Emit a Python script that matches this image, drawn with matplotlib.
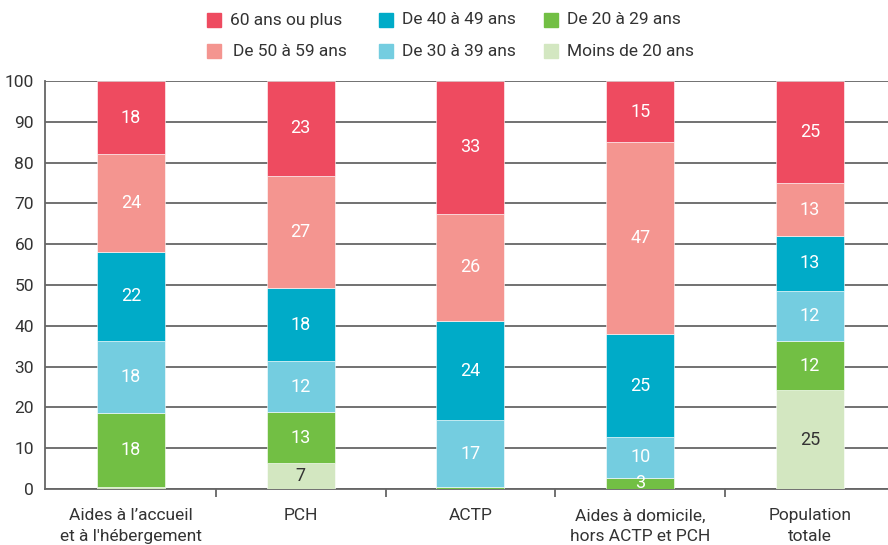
import numpy as np
import matplotlib
matplotlib.use('Agg')
from matplotlib import pyplot as plt
from matplotlib.patches import Rectangle

plt.rcParams['font.family'] = ['Roboto', 'DejaVu Sans']

# categories
categories = ["Aides à l’accueil\net à l'hébergement", 'PCH', 'ACTP',
              'Aides à domicile,\nhors ACTP et PCH', 'Population\ntotale']

# age groups, stacked from bottom to top
groups = ['Moins de 20 ans', 'De 20 à 29 ans', 'De 30 à 39 ans',
          'De 40 à 49 ans', 'De 50 à 59 ans', '60 ans ou plus']
colors = ['#D3E7C1', '#72BF44', '#74CDE0', '#00ABC8', '#F49590', '#EE4B60']

# shares (%) per category
moins20 = [0.5, 6.3, 0.0, 0.0, 24.2]
de20_29 = [18.1, 12.6, 0.4, 2.8, 12.0]
de30_39 = [17.7, 12.4, 16.5, 9.9, 12.4]
de40_49 = [21.8, 18.0, 24.2, 25.3, 13.4]
de50_59 = [24.0, 27.5, 26.4, 47.0, 13.0]
plus60 = [17.9, 23.2, 32.5, 15.0, 25.0]

# printed labels on the segments
lab_moins20 = ['', '7', '', '', '25']
lab_20_29 = ['18', '13', '', '3', '12']
lab_30_39 = ['18', '12', '17', '10', '12']
lab_40_49 = ['22', '18', '24', '25', '13']
lab_50_59 = ['24', '27', '26', '47', '13']
lab_60 = ['18', '23', '33', '15', '25']

series = [moins20, de20_29, de30_39, de40_49, de50_59, plus60]
labels = [lab_moins20, lab_20_29, lab_30_39, lab_40_49, lab_50_59, lab_60]

fig = plt.figure(figsize=(8.88, 5.45), dpi=100)
ax = fig.add_axes([45 / 888, 56 / 545, 1 - 45 / 888, 408 / 545])

x = np.arange(len(categories))
bottom = np.zeros(len(categories))
for vals, labs, col, name in zip(series, labels, colors, groups):
    vals = np.array(vals)
    ax.bar(x, vals, 0.4, bottom=bottom, color=col, edgecolor='white',
           linewidth=0.4, zorder=3)
    tcol = '#333333' if name == 'Moins de 20 ans' else 'white'
    for i in range(len(x)):
        if labs[i]:
            ax.text(x[i], bottom[i] + vals[i] / 2, labs[i], ha='center', va='center',
                    color=tcol, fontsize=13, zorder=4)
    bottom += vals

ax.set_xlim(-0.506, 4.46)
ax.set_ylim(0, 100)
ax.set_yticks(range(0, 101, 10))
ax.yaxis.grid(True, color='#666666', linewidth=1.3, zorder=0)
ax.tick_params(axis='y', length=0, labelsize=12.5, labelcolor='#333333', pad=8)

ax.set_xticks(x)
ax.set_xticklabels(categories, fontsize=12.5, color='#333333', linespacing=1.5)
ax.tick_params(axis='x', which='major', length=0, pad=14)
ax.set_xticks(x[:-1] + 0.5, minor=True)
ax.tick_params(axis='x', which='minor', length=6, width=1.3, color='#666666', direction='out')

for s in ['top', 'right']:
    ax.spines[s].set_visible(False)
for s in ['left', 'bottom']:
    ax.spines[s].set_color('#666666')
    ax.spines[s].set_linewidth(1.3)
ax.set_axisbelow(True)

# legend drawn as a 3 x 2 grid at the top
leg_order = ['60 ans ou plus', 'De 50 à 59 ans', 'De 40 à 49 ans',
             'De 30 à 39 ans', 'De 20 à 29 ans', 'Moins de 20 ans']
col_x = [207, 379, 544]
row_y = [20, 51]
for k, name in enumerate(leg_order):
    cx = col_x[k // 2]
    cy = row_y[k % 2]
    c = colors[groups.index(name)]
    fig.add_artist(Rectangle((cx / 888, 1 - (cy + 7) / 545), 14 / 888, 14 / 545,
                             transform=fig.transFigure, color=c))
    dx = 26 if name == 'De 50 à 59 ans' else 23
    fig.text((cx + dx) / 888, 1 - cy / 545, name, ha='left', va='center',
             fontsize=12.5, color='#333333')

fig.savefig('out.png', dpi=100)
